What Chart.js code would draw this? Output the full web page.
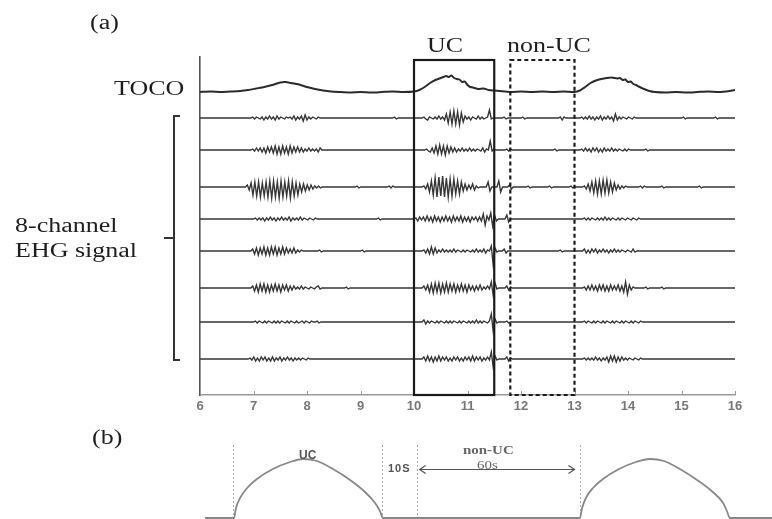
<!DOCTYPE html>
<html><head><meta charset="utf-8">
<script src="https://cdn.jsdelivr.net/npm/chart.js@4.4.1/dist/chart.umd.min.js"></script>
<style>
html,body{margin:0;padding:0;background:#fff;}
#wrap{position:relative;width:772px;height:519px;overflow:hidden;background:#fff;}
canvas{position:absolute;left:0;}
.t{position:absolute;white-space:nowrap;line-height:1;transform-origin:0 50%;}
.serif{font-family:'Liberation Serif','Times New Roman',serif;font-size:20px;color:#1e1e1e;transform:scaleX(1.3);}
.bserif{font-family:'Liberation Serif','Times New Roman',serif;font-size:13px;font-weight:bold;color:#666;transform:scaleX(1.15);}
.bsans{font-family:'Liberation Sans',Arial,sans-serif;font-weight:bold;color:#555;}
</style></head>
<body><div id="wrap">
<canvas id="ca" width="772" height="420" style="top:0;width:772px;height:420px"></canvas>
<canvas id="cb" width="772" height="99" style="top:420px;width:772px;height:99px"></canvas>
<div class="t serif" style="left:90px;top:12px">(a)</div>
<div class="t serif" style="left:114px;top:78px">TOCO</div>
<div class="t serif" style="left:427px;top:35px">UC</div>
<div class="t serif" style="left:507px;top:35px">non-UC</div>
<div class="t serif" style="left:15px;top:215px">8-channel</div>
<div class="t serif" style="left:15px;top:240px">EHG signal</div>
<div class="t serif" style="left:92px;top:427px">(b)</div>
<div class="t bsans" style="left:299px;top:449px;font-size:12px">UC</div>
<div class="t bsans" style="left:388px;top:463px;font-size:11px;letter-spacing:1px">10S</div>
<div class="t bserif" style="left:463px;top:443px">non-UC</div>
<div class="t bserif" style="left:477px;top:458px;font-weight:normal">60s</div>
</div>
<script>
// ---------- (a) data ----------
const X_MIN = 6, X_MAX = 16;
const xTicks = [6, 7, 8, 9, 10, 11, 12, 13, 14, 15, 16];
const ucWindow = [10.0, 11.5];
const nonUcWindow = [11.8, 13.0];
const boxTop = 335;
const tocoBaseline = 303;
const ehgBaselines = [277, 245, 208, 176, 144, 107, 73, 36];
const EHG_STEP = 0.035;

// TOCO trace: [time, deflection]
const tocoTrace = [[6.0,0],[6.2,0.5],[6.4,0],[6.6,0.5],[6.75,1],[6.9,2],[7.05,3.5],[7.2,5],[7.35,7],[7.5,9.5],[7.6,10],[7.7,9],[7.85,7.5],[8.0,5],[8.15,3],[8.3,1.5],[8.45,0.5],[8.6,0],[8.8,-0.5],[9.0,0],[9.2,-0.5],[9.4,0],[9.6,0.5],[9.8,0],[10.0,0.5],[10.1,2],[10.2,5],[10.3,9],[10.4,12],[10.5,14],[10.6,16],[10.65,15],[10.7,16.5],[10.75,14],[10.8,13],[10.85,12.5],[10.9,10],[10.95,10.5],[11.0,7],[11.05,5],[11.1,4.5],[11.2,3],[11.3,3.5],[11.4,2],[11.5,1.5],[11.6,1],[11.8,0],[12.0,0.5],[12.2,0],[12.4,0.5],[12.6,0],[12.8,0.5],[13.0,0],[13.1,1.5],[13.2,5],[13.3,9],[13.4,11.5],[13.5,13],[13.6,14],[13.7,14.5],[13.8,13.5],[13.85,14],[13.9,12],[13.95,12.5],[14.0,10],[14.05,10.5],[14.1,8],[14.15,7],[14.2,5.5],[14.3,3],[14.4,1],[14.5,0],[14.7,-0.5],[14.9,0],[15.1,-0.5],[15.3,0],[15.5,0.5],[15.7,0],[15.9,1],[16.0,2]];

// EHG channels: bursts of [start time, samples every EHG_STEP]
const ehg1 = [
  [6.95,[0,1,-1,1,0,-1,1,-2,1,-1,2,-1,1,-2,2,-1,1,0,-1,1,0,1,-1,2,-2,1,-1,2,-3,3,-2,1,-1,1,0,-1,1,0,0]],
  [9.6,[0,1,-1,0]],
  [10.15,[0,1,-1,-2,1,0,-1,1,-1,2,-1,1,-2,4,-5,6,-6,7,-6,6,-7,5,-4,2,-1,1,-2,1,0,-1,2,-1,1,-1,0,1,8,-1,0,0]],
  [11.65,[0,1,-1,0]],
  [12.0,[0,1,-1,0]],
  [12.7,[0,1,-2,1,0]],
  [13.1,[0,1,-1,1,-1,2,-1,1,-2,1,-1,2,-2,1,-1,2,-1,1,-3,4,-2,1,-1,1,0,-1,1,0,-1,1,0,0]],
  [15.0,[0,1,-1,0]],
  [15.6,[0,1,-1,0]]
];
const ehg2 = [
  [6.95,[0,1,-1,2,-1,2,-2,2,-3,3,-2,3,-3,4,-4,3,-4,4,-3,3,-4,4,-3,3,-2,3,-2,2,-2,1,-1,2,-1,1,-1,1,-2,2,0,0]],
  [10.2,[0,1,-1,-2,2,-3,4,-4,5,-4,4,-5,4,-3,3,-2,2,-2,1,-1,2,-1,1,-1,2,-1,1,-1,1,0,-1,2,-2,1,0,9,-1,1,0]],
  [11.7,[0,1,-1,1,0]],
  [12.6,[0,1,-1,0]],
  [13.1,[0,1,-1,2,-1,1,-2,2,-1,2,-2,1,-2,2,-1,1,-1,2,-1,1,-1,1,0,-1,1,-1,1,0,0]],
  [14.3,[0,1,-1,0]]
];
const ehg3 = [
  [6.85,[0,2,-3,4,-8,5,-9,5,-10,4,-9,5,-10,6,-11,6,-10,5,-11,6,-10,5,-9,6,-11,5,-9,4,-8,3,-5,3,-4,2,-3,2,-2,1,-1,1,-1,0,0]],
  [8.9,[0,1,-1,0]],
  [9.5,[0,1,-1,1,0]],
  [10.15,[0,1,-2,3,-5,6,-8,9,-10,10,-9,11,-10,9,-10,8,-9,8,-7,6,-7,5,-4,3,-3,2,-2,3,-3,1,-1,0,0]],
  [11.35,[0,5,-4,0]],
  [11.55,[0,6,-5,0]],
  [11.75,[0,2,-2,0]],
  [12.1,[0,1,-1,0]],
  [12.5,[0,1,-1,0]],
  [12.9,[0,1,-1,0]],
  [13.15,[0,1,-2,3,-4,5,-6,6,-7,6,-7,7,-6,7,-6,5,-5,4,-3,2,-2,1,-1,1,0,0]],
  [14.2,[0,1,-1,1,0]],
  [14.6,[0,1,-1,0]],
  [15.3,[0,1,-1,0]]
];
const ehg4 = [
  [7.0,[0,1,-1,1,-1,1,-2,1,-1,2,-1,1,-2,1,-1,2,-1,1,-1,2,-2,1,-1,1,-1,2,-1,1,0,-1,1,0,-1,1,0,0,0]],
  [9.3,[0,1,-1,0]],
  [10.0,[0,1,-2,2,-1,2,-2,3,-2,2,-3,3,-2,2,-3,2,-2,3,-2,2,-3,3,-2,2,-2,3,-3,2,-2,2,-3,2,-1,2,-2,2,-2,5,-6,3,-1,6,-7,4,-2,0]],
  [11.7,[0,4,-3,0]],
  [13.15,[0,1,-1,1,-1,1,0,-1,1,-1,1,-1,2,-1,1,-1,1,0,-1,1,-1,1,0,-1,1,0,-1,1,0,-1,1,0,0]]
];
const ehg5 = [
  [6.95,[0,2,-3,3,-4,3,-3,4,-4,3,-4,4,-3,4,-4,3,-3,4,-3,3,-2,2,-2,3,-2,1,-1,1,0,0]],
  [8.2,[0,1,-1,0]],
  [9.0,[0,1,-1,0]],
  [10.15,[0,1,-2,2,-3,4,-3,3,-2,1,-1,2,-1,1,-1,1,-1,2,-1,1,0,-1,1,-1,1,0,-1,1,-1,2,-1,1,-1,2,-2,1,0,5,-14,3,-1,0]],
  [11.65,[0,2,-2,0]],
  [12.7,[0,1,-1,0]],
  [13.15,[0,2,-2,1,-2,2,-1,2,-2,1,-1,2,-1,1,-2,1,-1,2,-1,1,-1,1,0,-1,1,0,-1,2,-1,0]]
];
const ehg6 = [
  [6.95,[0,2,-3,3,-4,4,-3,4,-4,3,-4,3,-3,4,-3,3,-4,3,-2,3,-3,2,-2,2,-1,1,-1,2,-1,1,0,-1,1,0,-1,1,2,-1,0]],
  [8.7,[0,1,-1,0]],
  [10.15,[0,2,-2,3,-4,4,-5,5,-4,5,-5,4,-4,5,-4,4,-3,4,-4,3,-3,4,-3,3,-4,3,-2,2,-3,2,-2,3,-2,1,-1,2,-1,6,-7,5,-1,0]],
  [11.7,[0,2,-2,1,0]],
  [13.15,[0,1,-2,2,-2,3,-2,2,-3,3,-2,3,-3,2,-3,3,-2,2,-2,3,-3,2,-4,6,-6,3,-2,1,0,0]],
  [14.3,[0,1,-1,0]],
  [14.6,[0,1,-1,0]]
];
const ehg7 = [
  [7.0,[0,1,-1,1,0,-1,1,-1,1,0,-1,1,-1,1,-1,1,0,-1,1,-1,1,0,-1,1,-1,0,1,-1,1,0,-1,1,0,0,1,-1,0]],
  [10.15,[0,2,-2,1,-1,1,0,-1,1,-1,1,0,-1,1,-1,1,-1,1,0,-1,1,-1,1,0,-1,1,-1,1,-1,2,-1,1,-1,1,0,-1,1,8,-9,3,-1,0]],
  [11.7,[0,1,-1,0]],
  [13.15,[0,1,-1,1,0,-1,1,-1,1,0,-1,1,-1,1,0,-1,1,-1,1,0,-1,1,-1,1,0,-1,1,-1,1,0,-1,1,0]]
];
const ehg8 = [
  [6.9,[0,1,-1,2,-2,1,-2,2,-1,2,-2,1,-2,2,-2,1,-1,2,-2,1,-1,2,-1,1,-2,1,-1,1,-1,1,0,-1,1,0,0]],
  [10.15,[0,2,-2,3,-2,2,-3,2,-2,3,-2,2,-1,2,-2,1,-2,2,-1,2,-2,1,-2,2,-1,2,-2,3,-2,2,-1,2,-2,1,-1,2,-1,7,-8,3,-1,0]],
  [11.7,[0,2,-2,1,0]],
  [13.15,[0,1,-1,1,-1,1,-1,2,-1,1,-2,1,-1,2,-3,3,-2,3,-3,2,-2,2,-1,1,-1,1,0,-1,1,0,-1,1,0]]
];
const ehgChannels = [ehg1, ehg2, ehg3, ehg4, ehg5, ehg6, ehg7, ehg8];

// ---------- (b) data (time in s, level) ----------
const bTimeMax = 208.7;
const bProfile = [[0,0],[10.7,0],[11.4,10],[12.9,20],[15.5,30],[19.1,39],[25,49],[31.3,56],[36.1,59],[41.2,57],[47.1,49],[53.4,38],[58.9,26],[62.6,15],[64.4,7],[65.5,0],
  [138,0],[138.8,10],[140.2,20],[142.8,30],[146.5,39],[152.4,49],[158.6,56],[163.8,59],[168.9,57],[174.8,49],[181.1,38],[186.9,26],[190.7,15],[192.1,7],[193.2,0],[208.7,0]];
const bMarks = [10.3, 65, 78, 138];
const bMarkTop = 73;
const bArrow = [79, 136];
const bArrowLevel = 49;

// ---------- build ----------
function buildChannel(base, bursts) {
  const pts = [{x: X_MIN, y: base}];
  bursts.forEach(([start, vals]) => vals.forEach((v, i) => pts.push({x: +(start + i * EHG_STEP).toFixed(4), y: base + v})));
  pts.push({x: X_MAX, y: base});
  return pts;
}

const datasetsA = [{
  data: tocoTrace.map(([x, v]) => ({x, y: tocoBaseline + v})),
  borderColor: '#2b2b2b', borderWidth: 2, pointRadius: 0, tension: 0.2
}];
ehgChannels.forEach((ch, k) => datasetsA.push({
  data: buildChannel(ehgBaselines[k], ch),
  borderColor: '#363636', borderWidth: 1.4, pointRadius: 0, tension: 0
}));

const overlayA = {
  id: 'overlayA',
  afterDatasetsDraw(chart) {
    const {ctx, scales: {x, y}} = chart;
    ctx.save();
    const y0 = y.getPixelForValue(0);
    ctx.strokeStyle = '#999'; ctx.lineWidth = 1;
    xTicks.forEach(v => {
      const px = Math.round(x.getPixelForValue(v)) + 0.5;
      ctx.beginPath(); ctx.moveTo(px, y0); ctx.lineTo(px, y0 - 4); ctx.stroke();
    });
    const top = y.getPixelForValue(boxTop);
    ctx.strokeStyle = '#1a1a1a'; ctx.lineWidth = 2.2;
    let l = x.getPixelForValue(ucWindow[0]), r = x.getPixelForValue(ucWindow[1]);
    ctx.strokeRect(l, top, r - l, y0 - top);
    ctx.setLineDash([4, 3]);
    l = x.getPixelForValue(nonUcWindow[0]); r = x.getPixelForValue(nonUcWindow[1]);
    ctx.strokeRect(l, top, r - l, y0 - top);
    ctx.setLineDash([]);
    const bx = x.getPixelForValue(X_MIN) - 26;
    const bt = y.getPixelForValue(ehgBaselines[0]) - 2;
    const bb = y.getPixelForValue(ehgBaselines[ehgBaselines.length - 1]) + 1;
    ctx.strokeStyle = '#333'; ctx.lineWidth = 2;
    ctx.beginPath(); ctx.moveTo(bx + 6, bt); ctx.lineTo(bx, bt); ctx.lineTo(bx, bb); ctx.lineTo(bx + 6, bb); ctx.stroke();
    const bm = (bt + bb) / 2;
    ctx.beginPath(); ctx.moveTo(bx, bm); ctx.lineTo(bx - 10, bm); ctx.stroke();
    ctx.restore();
  }
};

new Chart(document.getElementById('ca'), {
  type: 'line',
  data: {datasets: datasetsA},
  options: {
    responsive: false, animation: false, events: [],
    layout: {padding: {left: 200, right: 37, top: 57, bottom: 0}},
    plugins: {legend: {display: false}, tooltip: {enabled: false}},
    scales: {
      x: {
        type: 'linear', min: X_MIN, max: X_MAX,
        afterBuildTicks: s => { s.ticks = xTicks.map(v => ({value: v})); },
        afterFit: s => { s.height = 25; },
        grid: {display: false, drawTicks: false},
        border: {display: true, color: '#999', width: 1.5},
        ticks: {padding: 4, color: '#777', font: {family: 'Liberation Sans', size: 13, weight: 'bold'}, maxRotation: 0, autoSkip: false}
      },
      y: {
        type: 'linear', min: 0, max: 338,
        afterFit: s => { s.width = 0; },
        grid: {display: false, drawTicks: false},
        border: {display: true, color: '#555', width: 1.6},
        ticks: {display: false}
      }
    }
  },
  plugins: [overlayA]
});

const overlayB = {
  id: 'overlayB',
  beforeDatasetsDraw(chart) {
    const {ctx, scales: {x, y}} = chart;
    ctx.save();
    ctx.strokeStyle = '#aaa'; ctx.lineWidth = 1; ctx.setLineDash([2, 2]);
    bMarks.forEach(t => {
      const px = Math.round(x.getPixelForValue(t)) + 0.5;
      ctx.beginPath(); ctx.moveTo(px, y.getPixelForValue(bMarkTop)); ctx.lineTo(px, y.getPixelForValue(0)); ctx.stroke();
    });
    ctx.setLineDash([]);
    const ay = Math.round(y.getPixelForValue(bArrowLevel)) + 0.5;
    const a0 = x.getPixelForValue(bArrow[0]), a1 = x.getPixelForValue(bArrow[1]);
    ctx.strokeStyle = '#555'; ctx.lineWidth = 1.2;
    ctx.beginPath(); ctx.moveTo(a0, ay); ctx.lineTo(a1, ay); ctx.stroke();
    ctx.beginPath(); ctx.moveTo(a0 + 6, ay - 4); ctx.lineTo(a0, ay); ctx.lineTo(a0 + 6, ay + 4); ctx.stroke();
    ctx.beginPath(); ctx.moveTo(a1 - 6, ay - 4); ctx.lineTo(a1, ay); ctx.lineTo(a1 - 6, ay + 4); ctx.stroke();
    ctx.restore();
  }
};

new Chart(document.getElementById('cb'), {
  type: 'line',
  data: {datasets: [{
    data: bProfile.map(([x, v]) => ({x, y: v})),
    borderColor: '#888', borderWidth: 1.8, pointRadius: 0, cubicInterpolationMode: 'monotone'
  }]},
  options: {
    responsive: false, animation: false, events: [],
    layout: {padding: {left: 205, right: 0, top: 0, bottom: 0}},
    plugins: {legend: {display: false}, tooltip: {enabled: false}},
    scales: {
      x: {type: 'linear', min: 0, max: bTimeMax, display: false},
      y: {type: 'linear', min: -1, max: 98, display: false}
    }
  },
  plugins: [overlayB]
});
</script>
</body></html>
